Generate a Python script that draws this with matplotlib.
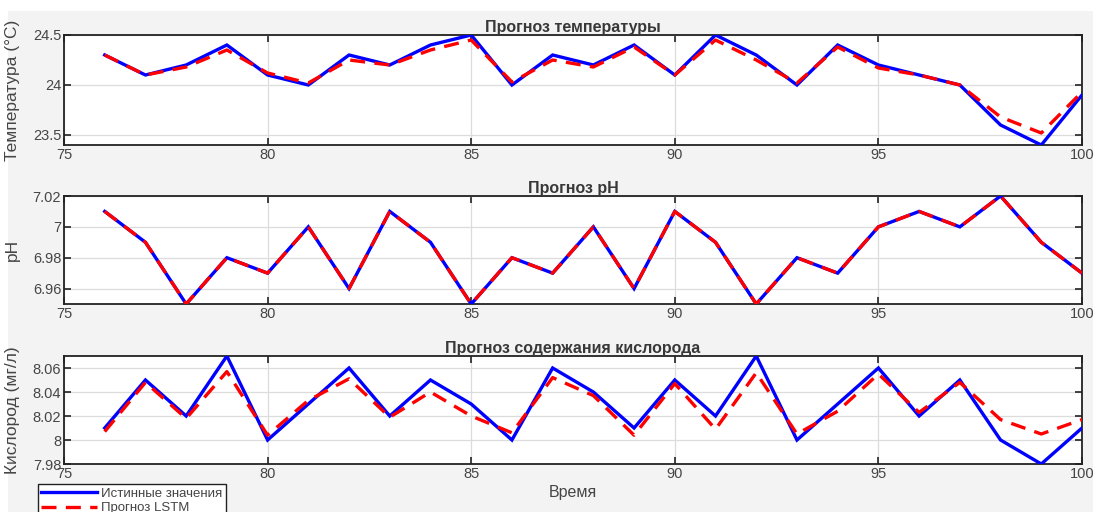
import matplotlib
matplotlib.use("Agg")
import matplotlib.pyplot as plt
from matplotlib.patches import Rectangle
from matplotlib.ticker import FixedLocator

plt.rcParams['font.family'] = ['Liberation Sans', 'DejaVu Sans']

time = list(range(76, 101))

temp_true = [24.3, 24.1, 24.2, 24.4, 24.1, 24.0, 24.3, 24.2, 24.4, 24.5, 24.0, 24.3, 24.2,
             24.4, 24.1, 24.5, 24.3, 24.0, 24.4, 24.2, 24.1, 24.0, 23.6, 23.4, 23.9]
temp_pred = [24.3, 24.1, 24.18, 24.35, 24.12, 24.02, 24.25, 24.2, 24.35, 24.45, 24.03, 24.25, 24.18,
             24.38, 24.1, 24.45, 24.25, 24.02, 24.38, 24.17, 24.1, 24.0, 23.68, 23.52, 23.93]

ph_true = [7.01, 6.99, 6.95, 6.98, 6.97, 7.00, 6.96, 7.01, 6.99, 6.95, 6.98, 6.97, 7.00,
           6.96, 7.01, 6.99, 6.95, 6.98, 6.97, 7.00, 7.01, 7.00, 7.02, 6.99, 6.97]
ph_pred = [7.01, 6.99, 6.95, 6.98, 6.97, 7.00, 6.96, 7.01, 6.99, 6.95, 6.98, 6.97, 7.00,
           6.96, 7.01, 6.99, 6.95, 6.98, 6.97, 7.00, 7.01, 7.00, 7.02, 6.99, 6.97]

oxy_true = [8.01, 8.05, 8.02, 8.07, 8.00, 8.03, 8.06, 8.02, 8.05, 8.03, 8.00, 8.06, 8.04,
            8.01, 8.05, 8.02, 8.07, 8.00, 8.03, 8.06, 8.02, 8.05, 8.00, 7.98, 8.01]
oxy_pred = [8.007, 8.048, 8.018, 8.057, 8.004, 8.033, 8.051, 8.019, 8.040, 8.020, 8.006, 8.052, 8.037,
            8.004, 8.047, 8.009, 8.056, 8.005, 8.024, 8.055, 8.023, 8.048, 8.017, 8.005, 8.017]

titles = ["Прогноз температуры", "Прогноз pH", "Прогноз содержания кислорода"]
ylabels = ["Температура (°C)", "pH", "Кислород (мг/л)"]
xlabel = "Время"
legend_labels = ["Истинные значения", "Прогноз LSTM"]
xticks = [75, 80, 85, 90, 95, 100]
yticks = [[23.5, 24, 24.5], [6.96, 6.98, 7.0, 7.02], [7.98, 8.0, 8.02, 8.04, 8.06]]
yticklabels = [["23.5", "24", "24.5"], ["6.96", "6.98", "7", "7.02"],
               ["7.98", "8", "8.02", "8.04", "8.06"]]
ylims = [(23.4, 24.5), (6.95, 7.02), (7.98, 8.07)]

W, H = 1093, 512
fig = plt.figure(figsize=(W / 100, H / 100), dpi=100, facecolor='white')
fig.patches.append(Rectangle((8 / W, 0), 1 - 8 / W, (H - 11) / H, transform=fig.transFigure,
                             facecolor='#f3f3f3', edgecolor='none', zorder=-10))

txt = '#454545'
boxes = [(35, 145), (196, 304), (356, 464)]
left, right = 64, 1082
series = [(temp_true, temp_pred), (ph_true, ph_pred), (oxy_true, oxy_pred)]
axes = []
for i, (top, bot) in enumerate(boxes):
    ax = fig.add_axes([left / W, (H - bot) / H, (right - left) / W, (bot - top) / H])
    axes.append(ax)
    yt, yp = series[i]
    l1, = ax.plot(time, yt, color=(0, 0, 1), lw=2.4, solid_joinstyle='miter', zorder=3)
    l2, = ax.plot(time, yp, color=(1, 0, 0), lw=2.4, ls=(0, (4.5, 2.8)), zorder=4)
    ax.set_xlim(75, 100)
    ax.set_ylim(*ylims[i])
    ax.xaxis.set_major_locator(FixedLocator(xticks))
    ax.set_xticklabels([str(v) for v in xticks])
    ax.set_yticks(yticks[i])
    ax.set_yticklabels(yticklabels[i])
    ax.grid(True, color='#dcdcdc', lw=0.9)
    ax.set_axisbelow(True)
    ax.tick_params(direction='in', length=5, width=1.2, top=True, right=True,
                   labelsize=10.5, labelcolor=txt, color='#222222', pad=2)
    for s in ax.spines.values():
        s.set_linewidth(1.3)
        s.set_color('#222222')
    ax.set_title(titles[i], fontsize=11.5, fontweight='bold', color='#383838', pad=2)
    ax.set_ylabel(ylabels[i], fontsize=12.5, color=txt, labelpad=2)
    if i == 2:
        ax.set_xlabel(xlabel, fontsize=11.5, color=txt, labelpad=3)
        handles = [l1, l2]

for ax in axes:
    ax.yaxis.set_label_coords(-44 / (right - left), 0.5)

leg = fig.legend(handles, legend_labels, loc='upper left',
                 bbox_to_anchor=(38 / W, (H - 484) / H), bbox_transform=fig.transFigure,
                 fontsize=9.5, frameon=True, fancybox=False, edgecolor='#222222',
                 framealpha=1, handlelength=4.2, borderpad=0.25, labelspacing=0.2,
                 handletextpad=0.35, borderaxespad=0)
leg.get_frame().set_linewidth(1.0)
for t in leg.get_texts():
    t.set_color(txt)

fig.savefig('out.png', dpi=100, facecolor=fig.get_facecolor())
